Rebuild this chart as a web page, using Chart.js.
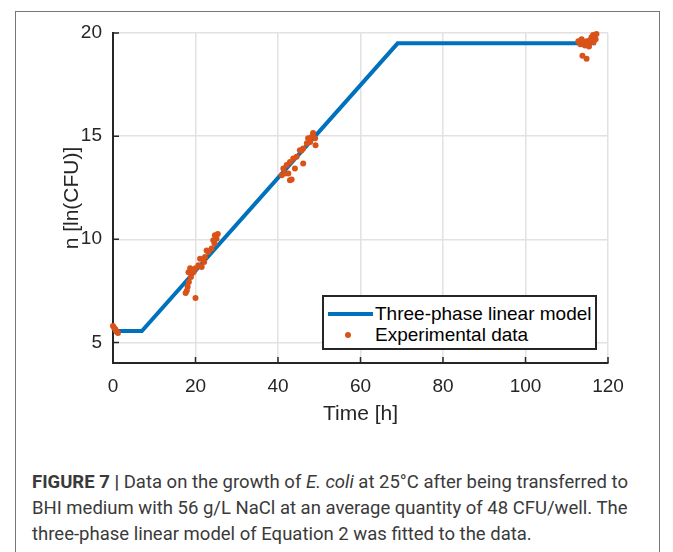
<!DOCTYPE html>
<html lang="en">
<head>
<meta charset="UTF-8">
<title>Growth of E. coli at 25°C</title>
<script src="https://cdn.jsdelivr.net/npm/chart.js"></script>
<style>
    body {
        margin: 0;
        width: 673px;
        height: 552px;
        background: #fff;
        position: relative;
        overflow: hidden;
        font-family: "Liberation Sans", Arial, sans-serif;
    }
    .frame {
        position: absolute;
        left: 15px;
        top: 11px;
        width: 643px;
        height: 600px;
        border: 1px solid #777;
    }
    #growthChart {
        position: absolute;
        left: 0;
        top: 0;
    }
    .legend {
        position: absolute;
        left: 322px;
        top: 295px;
        width: 275px;
        height: 55px;
        box-sizing: border-box;
        border: 2px solid #262626;
        background: #fff;
        color: #000;
        font-size: 19px;
    }
    .legend .row {
        position: absolute;
        left: 51px;
        white-space: nowrap;
        line-height: 22px;
    }
    .legend .sample-line {
        position: absolute;
        left: 4px;
        top: 15px;
        width: 45px;
        height: 4px;
        background: #0072BD;
    }
    .legend .sample-dot {
        position: absolute;
        left: 21px;
        top: 35px;
        width: 6px;
        height: 6px;
        border-radius: 50%;
        background: #D95319;
    }
    .caption {
        position: absolute;
        left: 32px;
        top: 469px;
        font-family: Roboto, sans-serif;
        font-size: 18.5px;
        line-height: 26px;
        color: #3a3a3a;
        white-space: nowrap;
    }
</style>
</head>
<body>
<div class="frame"></div>
<canvas id="growthChart" width="673" height="440"></canvas>

<div class="legend">
    <div class="sample-line"></div>
    <div class="row" style="top:6px">Three-phase linear model</div>
    <div class="sample-dot"></div>
    <div class="row" style="top:27px">Experimental data</div>
</div>

<div class="caption">
    <b>FIGURE 7 |</b> Data on the growth of <i>E. coli</i> at 25°C after being transferred to<br>
    BHI medium with 56 g/L NaCl at an average quantity of 48 CFU/well. The<br>
    three-phase linear model of Equation 2 was fitted to the data.
</div>

<script>
    // three-phase linear model (lag, growth, stationary)
    const modelTime = [0, 7, 69, 117];
    const modelN = [5.55, 5.55, 19.5, 19.5];

    const expTime = [
        0, 0.3, 0.6, 0.9, 1.2,
        17.6, 17.9, 18.1, 18.4, 18.3, 18.7, 18.9, 19.5, 20.0, 20.0, 20.7, 21.1, 21.5,
        22.1, 22.3, 22.7, 23.1, 23.9, 24.3, 24.6, 24.7, 25.1, 25.4,
        40.9, 41.3, 41.7, 42.1, 42.5, 42.9, 42.9, 43.3, 43.7, 44.1, 44.5, 45.3, 45.7,
        46.1, 46.1, 47.0, 47.3, 47.8, 48.2, 48.5, 49.0, 49.1,
        112.8, 113.3, 113.6, 114.0, 114.4, 114.8, 115.2, 115.6, 116.0, 116.4, 116.5,
        116.8, 117.0, 117.2, 113.8, 114.8, 115.4
    ];
    const expN = [
        5.8, 5.7, 5.62, 5.52, 5.45,
        7.4, 7.5, 7.7, 7.93, 8.4, 8.6, 8.17, 8.4, 8.6, 7.15, 8.74, 9.06, 8.65,
        8.9, 9.14, 9.45, 9.38, 9.55, 9.95, 9.8, 10.2, 10.03, 10.25,
        13.1, 13.43, 13.19, 13.6, 13.19, 12.86, 13.75, 12.9, 13.92, 13.43, 14.0, 14.32, 14.3,
        14.4, 13.67, 14.65, 14.9, 14.72, 14.97, 15.15, 14.9, 14.56,
        19.6, 19.45, 19.7, 19.55, 19.4, 19.6, 19.5, 19.65, 19.8, 19.9, 19.55,
        19.75, 19.7, 19.95, 18.9, 18.75, 19.35
    ];

    const xTicks = [0, 20, 40, 60, 80, 100, 120];
    const yTicks = [5, 10, 15, 20];

    const axisColor = '#262626';
    const gridColor = '#e2e2e2';
    const fontFamily = '"Liberation Sans", Arial, sans-serif';

    // MATLAB style tick marks pointing into the plot
    const inwardTicks = {
        id: 'inwardTicks',
        beforeDatasetsDraw(chart) {
            const {ctx, chartArea, scales: {x, y}} = chart;
            ctx.save();
            ctx.strokeStyle = axisColor;
            ctx.lineWidth = 1.5;
            ctx.beginPath();
            yTicks.forEach(v => {
                const py = y.getPixelForValue(v);
                ctx.moveTo(chartArea.left, py);
                ctx.lineTo(chartArea.left + 6, py);
            });
            xTicks.forEach(v => {
                const px = x.getPixelForValue(v);
                ctx.moveTo(px, chartArea.bottom);
                ctx.lineTo(px, chartArea.bottom - 6);
            });
            ctx.stroke();
            ctx.restore();
        }
    };

    const ctx = document.getElementById('growthChart').getContext('2d');
    new Chart(ctx, {
        type: 'scatter',
        data: {
            datasets: [{
                label: 'Experimental data',
                data: expTime.map((t, i) => ({x: t, y: expN[i]})),
                backgroundColor: '#D95319',
                borderColor: '#D95319',
                borderWidth: 0,
                pointRadius: 3,
                clip: false
            }, {
                label: 'Three-phase linear model',
                data: modelTime.map((t, i) => ({x: t, y: modelN[i]})),
                showLine: true,
                borderColor: '#0072BD',
                borderWidth: 4,
                pointRadius: 0,
                tension: 0,
                clip: false
            }]
        },
        options: {
            responsive: false,
            animation: false,
            devicePixelRatio: 1,
            layout: {
                padding: {left: 0, top: 33, right: 65, bottom: 0}
            },
            plugins: {
                legend: {display: false},
                tooltip: {enabled: false}
            },
            scales: {
                x: {
                    type: 'linear',
                    min: 0,
                    max: 120,
                    afterBuildTicks: s => { s.ticks = xTicks.map(v => ({value: v})); },
                    afterFit: s => { s.height = 77; },
                    grid: {color: gridColor, lineWidth: 1.5, drawTicks: false, tickLength: 0},
                    border: {color: axisColor, width: 2},
                    ticks: {
                        color: axisColor,
                        padding: 12,
                        font: {size: 19, family: fontFamily}
                    },
                    title: {
                        display: true,
                        text: 'Time [h]',
                        color: axisColor,
                        font: {size: 21, family: fontFamily},
                        padding: {top: 0, bottom: 13}
                    }
                },
                y: {
                    type: 'linear',
                    min: 4,
                    max: 20,
                    afterBuildTicks: s => { s.ticks = yTicks.map(v => ({value: v})); },
                    afterFit: s => { s.width = 113; },
                    grid: {color: gridColor, lineWidth: 1.5, drawTicks: false, tickLength: 0},
                    border: {color: axisColor, width: 2},
                    ticks: {
                        color: axisColor,
                        padding: 11,
                        font: {size: 19, family: fontFamily}
                    },
                    title: {
                        display: true,
                        text: 'n [ln(CFU)]',
                        color: axisColor,
                        font: {size: 21, family: fontFamily},
                        padding: {top: 60, bottom: 0}
                    }
                }
            }
        },
        plugins: [inwardTicks]
    });
</script>
</body>
</html>
